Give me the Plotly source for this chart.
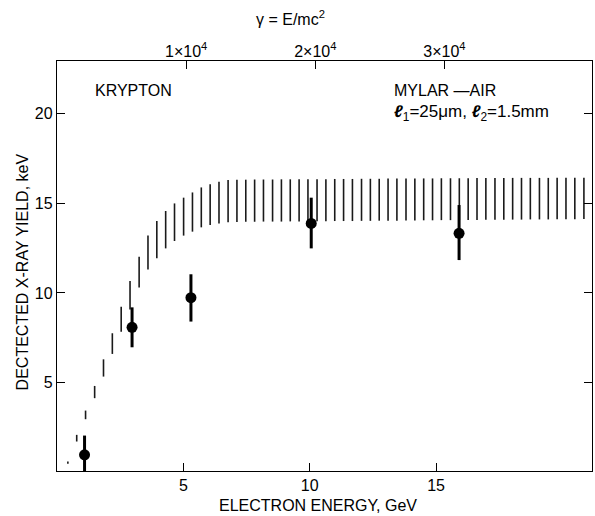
import plotly.graph_objects as go

# ---- data ----
band_E = [0.43, 0.78, 1.13, 1.49, 1.84, 2.19, 2.54, 2.89, 3.25, 3.60,
          3.95, 4.30, 4.65, 5.01, 5.36, 5.71, 6.06, 6.41, 6.77, 7.12,
          7.47, 7.82, 8.17, 8.53, 8.88, 9.23, 9.58, 9.93, 10.29, 10.64,
          10.99, 11.34, 11.69, 12.05, 12.40, 12.75, 13.10, 13.45, 13.81, 14.16,
          14.51, 14.86, 15.21, 15.57, 15.92, 16.27, 16.62, 16.97, 17.33, 17.68,
          18.03, 18.38, 18.73, 19.09, 19.44, 19.79, 20.14, 20.49, 20.85]
band_low = [0.50, 1.74, 2.98, 4.15, 5.35, 6.61, 7.85, 9.08, 10.31, 11.31,
            11.93, 12.48, 12.89, 13.19, 13.41, 13.65, 13.78, 13.87, 13.93, 13.95,
            13.96, 13.96, 13.97, 13.97, 13.97, 13.98, 13.98, 13.98, 13.99, 13.99,
            14.00, 14.00, 14.00, 14.01, 14.01, 14.02, 14.02, 14.02, 14.03, 14.03,
            14.04, 14.04, 14.05, 14.05, 14.05, 14.06, 14.06, 14.07, 14.07, 14.07,
            14.08, 14.08, 14.09, 14.09, 14.09, 14.10, 14.10, 14.10, 14.11]
band_high = [0.63, 2.11, 3.46, 4.83, 6.31, 7.76, 9.24, 10.67, 12.02, 13.19,
             14.00, 14.56, 14.98, 15.30, 15.59, 15.87, 16.04, 16.18, 16.28, 16.30,
             16.30, 16.31, 16.31, 16.31, 16.32, 16.32, 16.32, 16.33, 16.33, 16.33,
             16.34, 16.34, 16.34, 16.35, 16.35, 16.35, 16.36, 16.36, 16.36, 16.37,
             16.37, 16.37, 16.38, 16.38, 16.38, 16.38, 16.39, 16.39, 16.39, 16.39,
             16.40, 16.40, 16.40, 16.40, 16.40, 16.41, 16.41, 16.41, 16.41]

pts_E = [1.09, 2.97, 5.30, 10.06, 15.91]
pts_y = [1.00, 8.09, 9.74, 13.87, 13.32]
pts_err_up = [1.07, 1.11, 1.30, 1.43, 1.57]
pts_err_dn = [1.00, 1.11, 1.33, 1.39, 1.49]

x_ticks = [5, 10, 15]
y_ticks = [5, 10, 15, 20]
gamma_ticks = [10000, 20000, 30000]
gamma_labels = ["1×10<sup>4</sup>", "2×10<sup>4</sup>", "3×10<sup>4</sup>"]

E_RANGE = [0, 21.17]
Y_RANGE = [0.1, 22.9]
MC2_GEV = 0.000511

FONT = "Liberation Sans, Arial, sans-serif"

# hatched band as vertical segments
hx, hy = [], []
for e, lo, hi in zip(band_E, band_low, band_high):
    hx += [e, e, None]
    hy += [lo, hi, None]

fig = go.Figure()
fig.add_trace(go.Scatter(x=hx, y=hy, mode="lines",
                         line=dict(color="#1a1a1a", width=1.6),
                         hoverinfo="skip", showlegend=False))
fig.add_trace(go.Scatter(x=pts_E, y=pts_y, mode="markers",
                         marker=dict(color="black", size=11),
                         error_y=dict(type="data", symmetric=False,
                                      array=pts_err_up, arrayminus=pts_err_dn,
                                      color="black", thickness=3, width=0),
                         showlegend=False))
# invisible trace to activate the top gamma axis
fig.add_trace(go.Scatter(x=[E_RANGE[0] / MC2_GEV], y=[Y_RANGE[0]], xaxis="x2",
                         mode="markers", marker=dict(opacity=0),
                         hoverinfo="skip", showlegend=False))

axis_common = dict(showgrid=False, zeroline=False, linecolor="black", linewidth=1.3,
                   ticks="inside", ticklen=8, tickwidth=1.3, tickcolor="black",
                   tickfont=dict(family=FONT, size=16, color="black"))

txt = dict(family=FONT, size=16, color="black")

fig.update_layout(
    width=595, height=516,
    margin=dict(l=57, r=3, t=61, b=45),
    paper_bgcolor="white", plot_bgcolor="white",
    xaxis=dict(range=E_RANGE, tickvals=x_ticks, showline=True, mirror=True,
               automargin=False, **axis_common),
    yaxis=dict(range=Y_RANGE, tickvals=y_ticks, showline=True, mirror="ticks",
               automargin=False, **axis_common),
    xaxis2=dict(range=[E_RANGE[0] / MC2_GEV, E_RANGE[1] / MC2_GEV], overlaying="x",
                side="top", tickvals=gamma_ticks, ticktext=gamma_labels,
                showline=False, automargin=False, **axis_common),
    annotations=[
        dict(text="DECTECTED X-RAY YIELD, keV", xref="paper", yref="paper",
             x=-0.065, y=0.485, xanchor="center", yanchor="middle",
             textangle=-90, showarrow=False, font=txt),
        dict(text="ELECTRON ENERGY, GeV", xref="paper", yref="paper",
             x=0.488, y=-0.083, xanchor="center", yanchor="middle",
             showarrow=False, font=txt),
        dict(text="γ = E/mc<sup>2</sup>", xref="paper", yref="paper",
             x=0.436, y=1.105, xanchor="center", yanchor="middle",
             showarrow=False, font=txt),
        dict(text="KRYPTON", xref="paper", yref="paper", x=0.067, y=0.929,
             xanchor="left", yanchor="middle", showarrow=False, font=txt),
        dict(text="MYLAR —AIR", xref="paper", yref="paper", x=0.626, y=0.929,
             xanchor="left", yanchor="middle", showarrow=False, font=txt),
        dict(text="<b><i>ℓ</i></b><sub>1</sub>=25μm, <b><i>ℓ</i></b><sub>2</sub>=1.5mm",
             xref="paper", yref="paper", x=0.626, y=0.873,
             xanchor="left", yanchor="middle", showarrow=False,
             font=dict(family=FONT, size=17, color="black")),
    ],
)

fig.write_html("out.html")
